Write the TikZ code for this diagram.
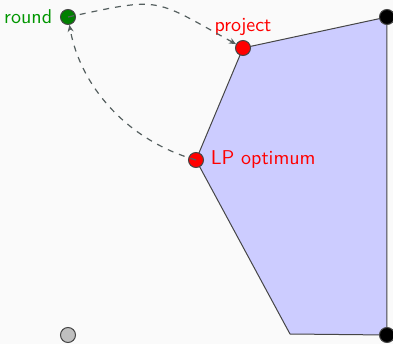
\documentclass[tikz,border=0pt]{standalone}
\usetikzlibrary{arrows.meta}
\definecolor{bgcol}{RGB}{250,250,250}
\definecolor{edgecol}{RGB}{70,70,70}
\definecolor{pathcol}{RGB}{85,95,95}
\definecolor{roundgreen}{RGB}{0,150,0}
\tikzset{
  pt/.style={circle, draw=edgecol, line width=0.5pt, minimum size=7.5pt, inner sep=0pt},
  vertex/.style={pt, fill=black},
  move/.style={draw=pathcol, dashed, line width=0.6pt, -{Stealth[length=3.5pt,width=3pt]}},
  lbl/.style={font=\sffamily, inner sep=0pt}
}
\begin{document}
\begin{tikzpicture}[x=0.5pt, y=0.5pt]
  % canvas
  \fill[bgcol] (0,0) rectangle (393,344);
  \useasboundingbox (0,0) rectangle (393,344);

  % feasible region
  \filldraw[fill=blue!20, draw=edgecol, line width=0.5pt]
    (243,296) -- (387,327) -- (387,9) -- (290,10) -- (196,184) -- cycle;

  % points
  \node[vertex] (tr) at (387,327) {};
  \node[vertex] (br) at (387,9) {};
  \node[pt, fill=gray!50] (grey) at (68,9) {};
  \node[pt, fill=red] (proj) at (243,296) {};
  \node[pt, fill=red] (lp) at (196,184) {};
  \node[pt, fill=green!50!black] (rnd) at (68,327) {};

  % labels
  \node[lbl, text=roundgreen, anchor=east] (rndlbl) at ([xshift=-3.75pt]rnd.west) {round};
  \node[lbl, text=red] (projlbl) at (243,317) {project};
  \node[lbl, text=red, anchor=west] (lplbl) at ([xshift=3.25pt]lp.east) {LP optimum};

  % rounding and projection steps
  \draw[move] (lp.center) .. controls +(-70,20) and +(12,-68) .. (rnd);
  \draw[move] (rnd.center) to[out=12, in=151, looseness=1.45] (proj);
\end{tikzpicture}
\end{document}
